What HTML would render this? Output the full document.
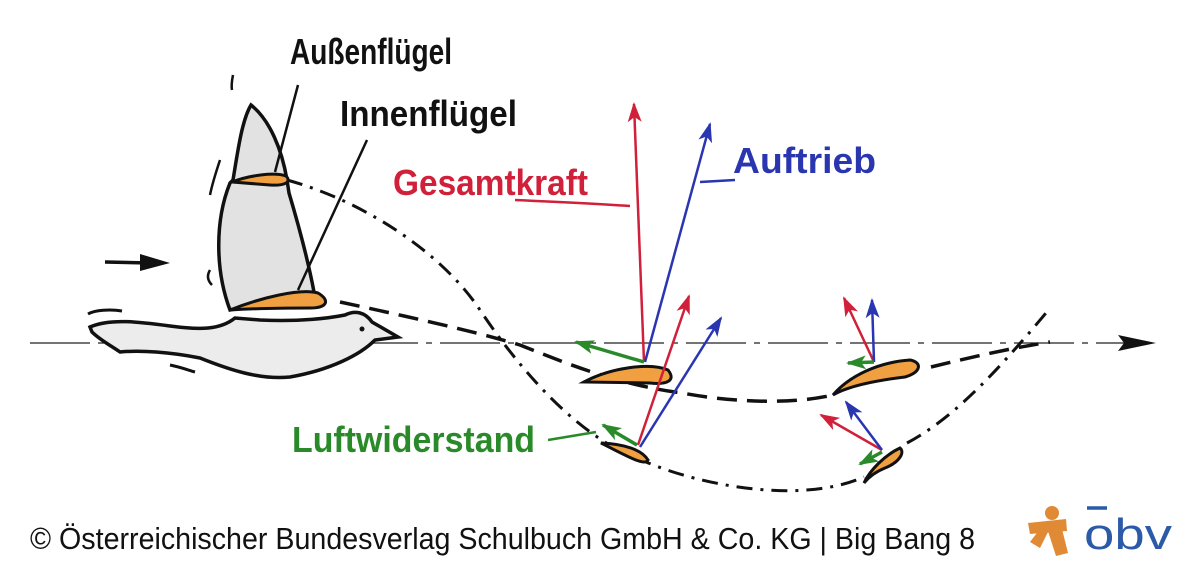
<!DOCTYPE html>
<html><head><meta charset="utf-8"><style>
html,body{margin:0;padding:0;background:#fff;}
svg{display:block;}
</style></head><body>
<svg width="1200" height="567" viewBox="0 0 1200 567" xmlns="http://www.w3.org/2000/svg">
<defs>
<marker id="ar" markerWidth="20" markerHeight="16" refX="18" refY="8" orient="auto" markerUnits="userSpaceOnUse"><path d="M0,1 L20,8 L0,15 L5,8 z" fill="#d0203a"/></marker>
<marker id="abl" markerWidth="20" markerHeight="16" refX="18" refY="8" orient="auto" markerUnits="userSpaceOnUse"><path d="M0,1 L20,8 L0,15 L5,8 z" fill="#2a35b0"/></marker>
<marker id="ag" markerWidth="20" markerHeight="16" refX="18" refY="8" orient="auto" markerUnits="userSpaceOnUse"><path d="M0,1 L20,8 L0,15 L5,8 z" fill="#2a8a2a"/></marker>
</defs>
<!-- horizontal axis -->
<line x1="30" y1="343" x2="1125" y2="343" stroke="#222" stroke-width="1.3" stroke-dasharray="60,8,6,8"/>
<path d="M1118,335 L1156,343 L1118,351 L1124,343 z" fill="#111"/>
<!-- small arrow -->
<line x1="105" y1="262" x2="150" y2="263" stroke="#111" stroke-width="3.5"/>
<path d="M140,254 L170,263 L140,271 z" fill="#111"/>
<!-- bird body -->
<path d="M90,327 C110,318 140,322 170,326 C200,330 220,330 235,318 L260,320 C300,322 330,318 345,315 C355,310 365,312 372,322 L398,337 L375,340 C360,355 330,370 290,377 C260,380 230,370 200,358 C170,352 140,350 120,352 C110,345 100,340 92,332 z" fill="#ececec" stroke="#111" stroke-width="3.5"/>
<circle cx="362" cy="329" r="2.5" fill="#111"/>
<path d="M88,314 C95,310 110,309 122,311" fill="none" stroke="#111" stroke-width="3"/>
<path d="M170,365 C180,367 188,370 195,372" fill="none" stroke="#111" stroke-width="3"/>
<!-- wing -->
<path d="M251,105 C270,120 282,150 287,180 L289,193 C300,230 308,260 314,292 L230,310 C215,270 215,220 230,183 L233,180 C238,150 242,120 251,105 z" fill="#e2e2e2" stroke="#111" stroke-width="3.5"/>
<path d="M233,75 C232,80 231,85 232,90" fill="none" stroke="#111" stroke-width="2.5"/>
<path d="M220,160 C215,175 212,185 210,195" fill="none" stroke="#111" stroke-width="2.5"/>
<path d="M210,270 C207,275 207,280 212,285" fill="none" stroke="#111" stroke-width="2.5"/>
<!-- wing airfoils -->
<path d="M232,182 C250,175 275,172 286,176 C292,182 285,186 270,185 Z" fill="#f0a040" stroke="#111" stroke-width="3"/>
<path d="M230,310 C260,298 300,288 318,293 C330,300 328,308 310,308 C290,308 260,308 230,310 Z" fill="#f0a040" stroke="#111" stroke-width="3"/>
<!-- leader lines -->
<line x1="298" y1="85" x2="275" y2="172" stroke="#111" stroke-width="2.5"/>
<line x1="367" y1="140" x2="298" y2="290" stroke="#111" stroke-width="2.5"/>
<!-- dash-dot outer path -->
<path d="M287,180 C360,200 440,250 480,310 C520,370 580,440 646,462 C700,485 800,505 864,477 M907,443 C950,420 990,380 1046,313" fill="none" stroke="#111" stroke-width="3" stroke-dasharray="16,8,3,8"/>
<!-- dashed inner path -->
<path d="M340,302 C400,315 470,330 520,345 C570,365 620,385 682,393 C730,402 790,405 833,395 M931,367 C960,360 1000,350 1050,342" fill="none" stroke="#111" stroke-width="3.5" stroke-dasharray="20,10"/>
<!-- airfoils right -->
<path d="M584,382 C610,368 650,362 668,370 C676,380 668,385 650,383 Z" fill="#f0a040" stroke="#111" stroke-width="3"/>
<path d="M601,443 C625,444 642,450 648,460 C645,466 630,458 601,443 Z" fill="#f0a040" stroke="#111" stroke-width="3"/>
<path d="M833,395 C850,375 880,362 910,360 C922,362 922,372 905,377 C880,380 850,385 833,395 Z" fill="#f0a040" stroke="#111" stroke-width="3"/>
<path d="M864,483 C870,470 885,455 900,448 C905,452 900,462 885,468 C875,472 868,478 864,483 Z" fill="#f0a040" stroke="#111" stroke-width="3"/>
<!-- force arrows -->
<line x1="644" y1="362" x2="634" y2="104" stroke="#d0203a" stroke-width="2.5" marker-end="url(#ar)"/>
<line x1="645" y1="362" x2="710" y2="124" stroke="#2a35b0" stroke-width="2.5" marker-end="url(#abl)"/>
<line x1="644" y1="362" x2="576" y2="342" stroke="#2a8a2a" stroke-width="3.5" marker-end="url(#ag)"/>
<line x1="638" y1="445" x2="689" y2="296" stroke="#d0203a" stroke-width="2.5" marker-end="url(#ar)"/>
<line x1="640" y1="447" x2="721" y2="318" stroke="#2a35b0" stroke-width="2.5" marker-end="url(#abl)"/>
<line x1="637" y1="445" x2="603" y2="425" stroke="#2a8a2a" stroke-width="3.5" marker-end="url(#ag)"/>
<line x1="874" y1="362" x2="844" y2="298" stroke="#d0203a" stroke-width="2.5" marker-end="url(#ar)"/>
<line x1="874" y1="362" x2="872" y2="300" stroke="#2a35b0" stroke-width="2.5" marker-end="url(#abl)"/>
<line x1="874" y1="362" x2="848" y2="363" stroke="#2a8a2a" stroke-width="3.5" marker-end="url(#ag)"/>
<line x1="882" y1="450" x2="821" y2="415" stroke="#d0203a" stroke-width="2.5" marker-end="url(#ar)"/>
<line x1="882" y1="450" x2="846" y2="402" stroke="#2a35b0" stroke-width="2.5" marker-end="url(#abl)"/>
<line x1="882" y1="452" x2="860" y2="464" stroke="#2a8a2a" stroke-width="3.5" marker-end="url(#ag)"/>
<!-- label leaders -->
<path d="M515,200 C560,202 600,204 630,206" fill="none" stroke="#d0203a" stroke-width="2.5"/>
<line x1="700" y1="182" x2="735" y2="180" stroke="#2a35b0" stroke-width="2.5"/>
<line x1="548" y1="440" x2="596" y2="432" stroke="#2a8a2a" stroke-width="2.5"/>
<!-- labels -->
<g font-family="Liberation Sans Narrow, Liberation Sans, sans-serif" font-size="36" font-weight="bold">
<text x="290" y="64" textLength="162" lengthAdjust="spacingAndGlyphs" fill="#111">Außenflügel</text>
<text x="340" y="126" textLength="177" lengthAdjust="spacingAndGlyphs" fill="#111">Innenflügel</text>
<text x="393" y="195" textLength="195" lengthAdjust="spacingAndGlyphs" fill="#d0203a">Gesamtkraft</text>
<text x="733" y="173" textLength="143" lengthAdjust="spacingAndGlyphs" fill="#2a35b0">Auftrieb</text>
<text x="292" y="452" textLength="243" lengthAdjust="spacingAndGlyphs" fill="#2a8a2a">Luftwiderstand</text>
</g>
<!-- footer -->
<text x="30" y="549" font-family="Liberation Sans Narrow, Liberation Sans, sans-serif" font-size="31" textLength="945" lengthAdjust="spacingAndGlyphs" fill="#111">© Österreichischer Bundesverlag Schulbuch GmbH &amp; Co. KG |  Big Bang 8</text>
<!-- logo -->
<g fill="#e08a35">
<circle cx="1052" cy="513" r="7"/>
<path d="M1028,523 L1066,519 L1067,531 L1030,534 z"/>
<path d="M1047,528 L1061,525 L1068,553 L1056,556 z"/>
<path d="M1050,528 L1040,548 L1030,542 L1043,525 z"/>
</g>
<line x1="1087" y1="508" x2="1107" y2="508" stroke="#2a5aa8" stroke-width="3.5"/>
<text x="1084" y="549" font-family="Liberation Sans, sans-serif" font-size="44" fill="#2a5aa8" textLength="88" lengthAdjust="spacingAndGlyphs">obv</text>
</svg>
</body></html>
